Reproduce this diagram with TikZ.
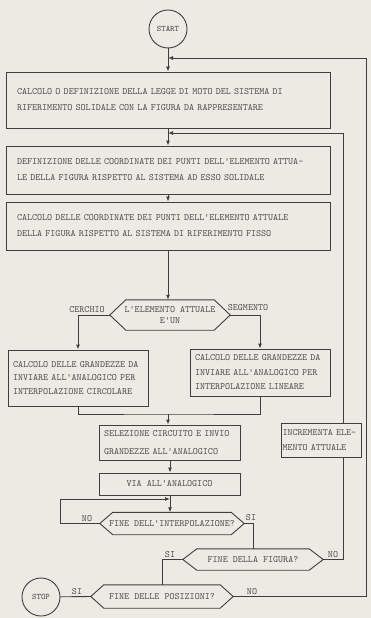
\documentclass[tikz,border=0pt]{standalone}
\usetikzlibrary{arrows.meta,calc}
\definecolor{bgc}{HTML}{EDEAE3}
\definecolor{linec}{HTML}{3E3E3E}
\definecolor{txtc}{HTML}{4A4A4A}
\newcommand\mytxt{\fontsize{9.6}{16}\ttfamily\selectfont}
\newcommand\myhex[2]{\draw[ln] (#1.west) -- ($(#1.north west)+(#2,0)$) -- ($(#1.north east)+(-#2,0)$) -- (#1.east) -- ($(#1.south east)+(-#2,0)$) -- ($(#1.south west)+(#2,0)$) -- cycle;}
\tikzset{
  ln/.style={draw=linec, line width=0.9pt},
  arr/.style={ln, -{Latex[length=5pt,width=4pt]}},
  box/.style={ln, rectangle, inner ysep=0pt, text=txtc, align=left, font=\mytxt},
  hexnode/.style={rectangle, inner sep=0pt, text=txtc, align=center, font=\mytxt},
  circ/.style={ln, circle, minimum size=38pt, inner sep=0pt, text=txtc, font=\fontsize{8.4}{10}\ttfamily\selectfont},
  lbl/.style={inner sep=1pt, text=txtc, font=\mytxt, anchor=south}
}
\begin{document}
\begin{tikzpicture}[x=1pt,y=-1pt]
\fill[bgc] (0,0) rectangle (371,618);
\useasboundingbox (0,0) rectangle (371,618);

\node[circ] (start) at (168,29) {START};

\node[box, minimum width=324pt, minimum height=56pt, text width=302pt, inner xsep=11pt] (b1) at (168,100)
  {CALCOLO O DEFINIZIONE DELLA LEGGE DI MOTO DEL SISTEMA DI\\RIFERIMENTO SOLIDALE CON LA FIGURA DA RAPPRESENTARE};
\node[box, minimum width=324pt, minimum height=48pt, text width=302pt, inner xsep=11pt] (b2) at (168,170)
  {DEFINIZIONE DELLE COORDINATE DEI PUNTI DELL'ELEMENTO ATTUA-\\LE DELLA FIGURA RISPETTO AL SISTEMA AD ESSO SOLIDALE};
\node[box, minimum width=324pt, minimum height=48pt, text width=302pt, inner xsep=11pt] (b3) at (168,226)
  {CALCOLO DELLE COORDINATE DEI PUNTI DELL'ELEMENTO ATTUALE\\DELLA FIGURA RISPETTO AL SISTEMA DI RIFERIMENTO FISSO};

\node[hexnode, minimum width=120pt, minimum height=30pt, font=\fontsize{9.6}{10.5}\ttfamily\selectfont] (h1) at (170,315)
  {L'ELEMENTO ATTUALE\\E'UN};
\myhex{h1}{16}

\node[box, minimum width=140pt, minimum height=56pt, text width=130pt, inner xsep=5pt, font=\fontsize{9.6}{13.5}\ttfamily\selectfont] (b4) at (78,378)
  {CALCOLO DELLE GRANDEZZE DA\\INVIARE ALL'ANALOGICO PER\\INTERPOLAZIONE CIRCOLARE};
\node[box, minimum width=140pt, minimum height=47pt, text width=130pt, inner xsep=5pt, font=\fontsize{9.6}{14.5}\ttfamily\selectfont] (b5) at (260,372.5)
  {CALCOLO DELLE GRANDEZZE DA\\INVIARE ALL'ANALOGICO PER\\INTERPOLAZIONE LINEARE};

\node[box, minimum width=141pt, minimum height=35pt, text width=131pt, inner xsep=5pt, font=\fontsize{9.6}{18}\ttfamily\selectfont] (b6) at (169.5,442.5)
  {SELEZIONE CIRCUITO E INVIO\\GRANDEZZE ALL'ANALOGICO};
\node[box, minimum width=141pt, minimum height=22pt, align=center] (b7) at (169.5,484)
  {VIA ALL'ANALOGICO};

\node[box, minimum width=80pt, minimum height=34pt, text width=77pt, inner xsep=1.5pt, font=\fontsize{9.6}{15}\ttfamily\selectfont] (inc) at (321,440)
  {INCREMENTA ELE-\\MENTO ATTUALE};

\node[hexnode, minimum width=144pt, minimum height=22pt] (h8) at (172,523.5) {FINE DELL'INTERPOLAZIONE?};
\myhex{h8}{13}
\node[hexnode, minimum width=140pt, minimum height=21pt] (h9) at (253,559.5) {FINE DELLA FIGURA?};
\myhex{h9}{14}
\node[hexnode, minimum width=142pt, minimum height=23pt] (h10) at (162,596.5) {FINE DELLE POSIZIONI?};
\myhex{h10}{13}

\node[circ] (stop) at (41,597) {STOP};

% helper coordinates
\coordinate (rx1) at (366,0);
\coordinate (rx2) at (343,0);
\coordinate (lx) at (60,0);
\coordinate (j1) at (168,58);
\coordinate (j2) at (168,133);
\coordinate (jm) at (168,414);
\coordinate (j3) at (170,499);

% main chain
\draw[arr] (start) -- (b1);
\draw[arr] (b1) -- (b2);
\draw[arr] (b2) -- (b3);
\draw[arr] (b3.south) -- (b3.south |- h1.north);
\draw[arr] (h1.west) -| (b4.north);
\draw[arr] (h1.east) -| (b5.north);
\draw[ln] (b4.south) |- (jm) -| (b5.south);
\draw[arr] (jm) -- (jm |- b6.north);
\draw[arr] (b6.south -| j3) -- (j3 |- b7.north);
\draw[arr] (b7.south -| j3) -- (j3 |- h8.north);

% decisions
\node[lbl] at (87,314) {CERCHIO};
\node[lbl] at (248,312) {SEGMENTO};
\draw[ln] (h8.west) -- (lx |- h8.west) -- (lx |- j3);
\draw[arr] (lx |- j3) -- (j3);
\node[lbl] at (87,522.5) {NO};
\draw[ln] (h8.east) -| (h9.north);
\node[lbl] at (251,522) {SI};
\draw[ln] (h9.east) -- (rx2 |- h9.east) -- (rx2 |- inc.south);
\draw[ln] (rx2 |- inc.north) -- (rx2 |- j2);
\draw[arr] (rx2 |- j2) -- (j2);
\node[lbl] at (333,559) {NO};
\draw[ln] (h9.west) -| (h10.north);
\node[lbl] at (170,558.5) {SI};
\draw[ln] (h10.west) -- (stop);
\node[lbl] at (77,596) {SI};
\draw[ln] (h10.east) -- (rx1 |- h10.east) -- (rx1 |- j1);
\draw[arr] (rx1 |- j1) -- (j1);
\node[lbl] at (252,596) {NO};
\end{tikzpicture}
\end{document}
